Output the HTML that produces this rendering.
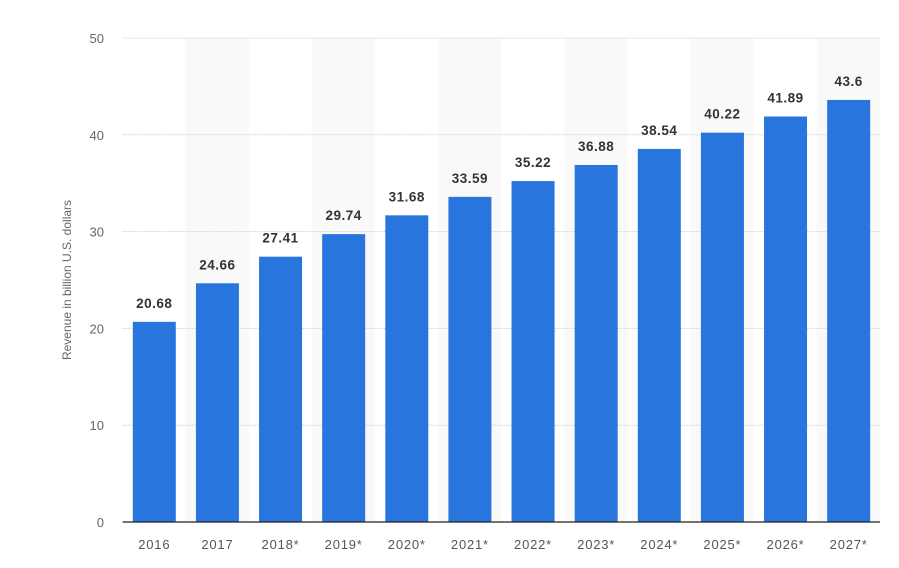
<!DOCTYPE html>
<html><head><meta charset="utf-8"><style>
body{margin:0;background:#fff;}
svg{display:block;font-family:"Liberation Sans",sans-serif;}
</style></head><body>
<svg id="chart" width="899" height="568"></svg>
<script>
const categories=["2016","2017","2018*","2019*","2020*","2021*","2022*","2023*","2024*","2025*","2026*","2027*"];
const values=[20.68,24.66,27.41,29.74,31.68,33.59,35.22,36.88,38.54,40.22,41.89,43.6];
const valueLabels=["20.68","24.66","27.41","29.74","31.68","33.59","35.22","36.88","38.54","40.22","41.89","43.6"];
const yTicks=[0,10,20,30,40,50];
const svg=document.getElementById('chart');
const NS='http://www.w3.org/2000/svg';
const x0=122.5,x1=880,y0=522,yTop=38,yMax=50;
const band=(x1-x0)/categories.length;
const y=v=>y0-(y0-yTop)*v/yMax;
const xb=i=>x0+i*band;
function mk(tag,attrs,txt){const e=document.createElementNS(NS,tag);for(const k in attrs)e.setAttribute(k,attrs[k]);if(txt!==undefined)e.textContent=txt;svg.appendChild(e);return e;}
categories.forEach((c,i)=>{if(i%2===1){const r=mk('rect',{x:xb(i),y:yTop,width:band,height:y0-yTop,fill:'#f9f9f9'});

}});
yTicks.forEach(t=>{
 if(t>0){const l=mk('line',{x1:x0,x2:x1,y1:y(t),y2:y(t),stroke:'#d8d8d8','stroke-dasharray':'2,1'});
 
 }
 const tx=mk('text',{x:104,y:y(t)+5,'text-anchor':'end','font-size':13,fill:'#666'},t);
 
 
});
categories.forEach((c,i)=>{
 const bx=xb(i)+10.3,bw=43;
 const r=mk('rect',{x:bx,y:y(values[i]),width:bw,height:y0-y(values[i]),fill:'#2876dd'});
 
 
 const vl=mk('text',{x:bx+bw/2,y:y(values[i])-14,'text-anchor':'middle','font-size':13.5,'font-weight':'bold',fill:'#333','letter-spacing':'0.5'},valueLabels[i]);
 
 
 const xl=mk('text',{x:bx+bw/2,y:549,'text-anchor':'middle','font-size':13,fill:'#555','letter-spacing':'0.8'},c);
 
 
});
const ax=mk('line',{x1:x0,x2:x1,y1:y0,y2:y0,stroke:'#222','stroke-width':1.3});


const yt=mk('text',{x:0,y:0,transform:'translate(71,280) rotate(-90)','text-anchor':'middle','font-size':12,fill:'#666'},'Revenue in billion U.S. dollars');


</script>
</body></html>
